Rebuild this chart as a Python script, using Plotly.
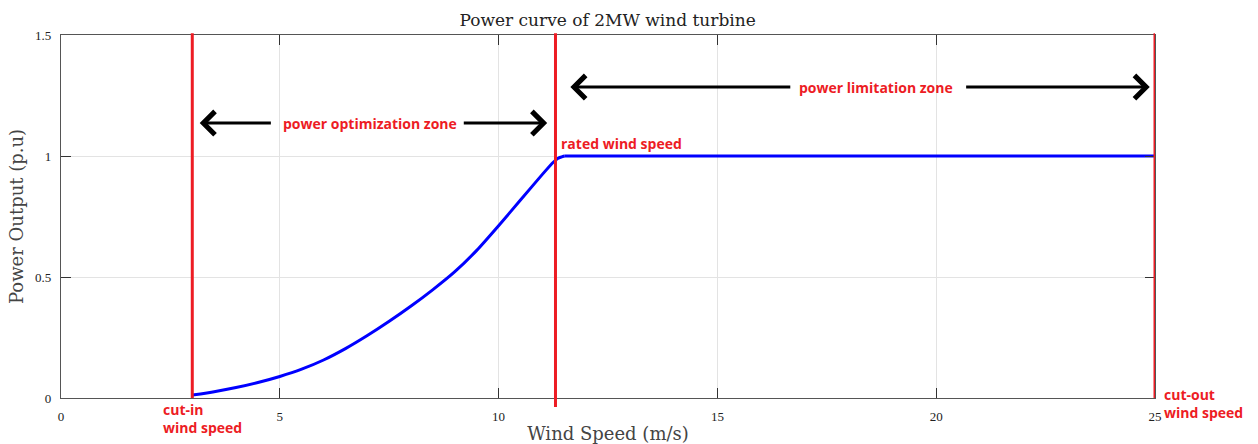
import plotly.graph_objects as go

# Wind speed (m/s) and power output (p.u)
wind_speed = [3, 3.5, 4, 4.5, 5, 5.5, 6, 6.5, 7, 7.5, 8, 8.5, 9, 9.5, 10, 10.5, 11, 11.25, 11.35, 11.5, 25]
power_pu = [0.012, 0.026, 0.043, 0.064, 0.089, 0.119, 0.157, 0.204, 0.258, 0.317, 0.38, 0.448, 0.522,
            0.61, 0.712, 0.818, 0.924, 0.974, 0.99, 1.0, 1.0]

cut_in = 3
rated = 11.3
cut_out = 25

x_ticks = [0, 5, 10, 15, 20, 25]
y_ticks = [0, 0.5, 1, 1.5]

RED = "rgb(237,28,36)"
SERIF = "DejaVu Serif"
TICKSERIF = "Liberation Serif"
SANS = "Open Sans"

fig = go.Figure()
# rising part (smooth) and flat rated part
fig.add_trace(go.Scatter(x=wind_speed[:-1], y=power_pu[:-1], mode="lines",
                         line=dict(color="rgb(0,0,255)", width=3, shape="spline", smoothing=0.5),
                         showlegend=False))
fig.add_trace(go.Scatter(x=wind_speed[-2:], y=power_pu[-2:], mode="lines",
                         line=dict(color="rgb(0,0,255)", width=3),
                         showlegend=False))

# vertical red markers
for xv, y0 in [(cut_in, 0), (rated, -0.025), (cut_out, 0)]:
    fig.add_shape(type="line", xref="x", yref="paper", x0=xv, x1=xv, y0=y0, y1=1.005,
                  line=dict(color=RED, width=3), layer="above")

# zone arrows (head at x,y ; tail at ax,ay)
arrows = [
    (3.17, 1.136, 4.83),
    (11.11, 1.136, 9.17),
    (11.64, 1.285, 16.7),
    (24.88, 1.285, 20.65),
]
for hx, hy, tx in arrows:
    fig.add_annotation(x=hx, y=hy, ax=tx, ay=hy, xref="x", yref="y", axref="x", ayref="y",
                       showarrow=True, arrowhead=4, arrowsize=1.5, arrowwidth=3,
                       arrowcolor="black", text="")

lab_font = dict(family=SANS, size=14, color=RED)
fig.add_annotation(x=7.05, y=1.136, xref="x", yref="y", text="<b>power optimization zone</b>",
                   showarrow=False, font=lab_font, xanchor="center")
fig.add_annotation(x=18.62, y=1.285, xref="x", yref="y", text="<b>power limitation zone</b>",
                   showarrow=False, font=lab_font, xanchor="center")
fig.add_annotation(x=11.39, y=1.05, xref="x", yref="y", text="<b>rated wind speed</b>",
                   showarrow=False, font=lab_font, xanchor="left")
fig.add_annotation(x=0.0914, y=-0.0, xref="paper", yref="paper", text="<b>cut-in<br>wind speed</b>",
                   showarrow=False, font=lab_font, xanchor="left", yanchor="top", align="left")
fig.add_annotation(x=1.0064, y=-0.0165, xref="paper", yref="paper",
                   text="<b>cut-out<br>wind speed</b>",
                   showarrow=False, font=lab_font, xanchor="left", yanchor="middle", align="left")

axis_common = dict(showline=True, linecolor="#555", linewidth=1.3, mirror="ticks",
                   ticks="inside", ticklen=10, tickcolor="#333", tickwidth=1.3,
                   showgrid=True, gridcolor="#e3e3e3", gridwidth=1, zeroline=False,
                   automargin=False,
                   tickfont=dict(family=TICKSERIF, size=13, color="#222"))

fig.update_layout(
    width=1258, height=444,
    margin=dict(l=61, r=103, t=35, b=46, autoexpand=False),
    paper_bgcolor="white", plot_bgcolor="white",
    title=dict(text="Power curve of 2MW wind turbine", x=0.483, xanchor="center",
               y=0.955, yanchor="middle",
               font=dict(family=SERIF, size=17, color="#222")),
    xaxis=dict(range=[0, 25], tickvals=x_ticks, ticktext=[str(v) for v in x_ticks],
               title=dict(text="Wind Speed (m/s)", standoff=4,
                          font=dict(family=SERIF, size=18, color="#444")),
               ticklabelstandoff=6, **axis_common),
    yaxis=dict(range=[0, 1.5], tickvals=y_ticks, ticktext=["0", "0.5", "1", "1.5"],
               title=dict(text="Power Output (p.u)", standoff=6,
                          font=dict(family=SERIF, size=18, color="#444")),
               ticklabelstandoff=6, **axis_common),
)

fig.write_html("out.html", config={"displayModeBar": False},
               post_script="document.body.style.margin='0';document.body.style.overflow='hidden';")
